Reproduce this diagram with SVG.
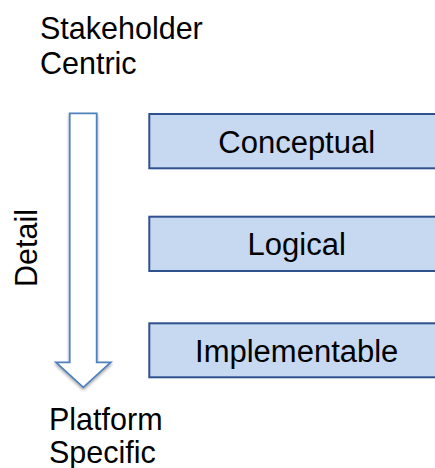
<svg xmlns="http://www.w3.org/2000/svg" width="435" height="468" viewBox="0 0 435 468">
<style>
text{font-family:"Liberation Sans",Arial,sans-serif;fill:#000;}
.lbl{font-size:31px;text-anchor:middle;}
.side{font-size:30.5px;}
.box{fill:#C6D9F1;stroke:#2F528F;stroke-width:2;}
</style>
<defs>
<filter id="sh" x="-20%" y="-10%" width="140%" height="130%">
<feGaussianBlur in="SourceAlpha" stdDeviation="1.5"/>
<feOffset dx="0" dy="2" result="b"/>
<feComponentTransfer><feFuncA type="linear" slope="0.35"/></feComponentTransfer>
<feMerge><feMergeNode/><feMergeNode in="SourceGraphic"/></feMerge>
</filter>
</defs>
<g id="top-label"><text class="side" x="40" y="39">Stakeholder</text><text class="side" x="40" y="74">Centric</text></g>
<g id="bottom-label"><text class="side" x="49" y="430">Platform</text><text class="side" x="49" y="463">Specific</text></g>
<g id="detail-label"><text class="side" transform="translate(37,287) rotate(-90)">Detail</text></g>
<g id="connectors">
<path d="M69.7,113.3 H96.7 V362.3 H110.7 L83.3,387.3 L56,362.3 H69.7 Z" fill="#fff" stroke="#4F81BD" stroke-width="1.8" stroke-linejoin="miter" filter="url(#sh)"/>
</g>
<g id="conceptual"><rect class="box" x="149.3" y="114" width="300" height="54.3"/><text class="lbl" x="296.7" y="153.3">Conceptual</text></g>
<g id="logical"><rect class="box" x="149.3" y="216.7" width="300" height="54.3"/><text class="lbl" x="296.7" y="255.3">Logical</text></g>
<g id="implementable"><rect class="box" x="149.3" y="323.3" width="300" height="54"/><text class="lbl" x="296.7" y="361.7">Implementable</text></g>
</svg>
